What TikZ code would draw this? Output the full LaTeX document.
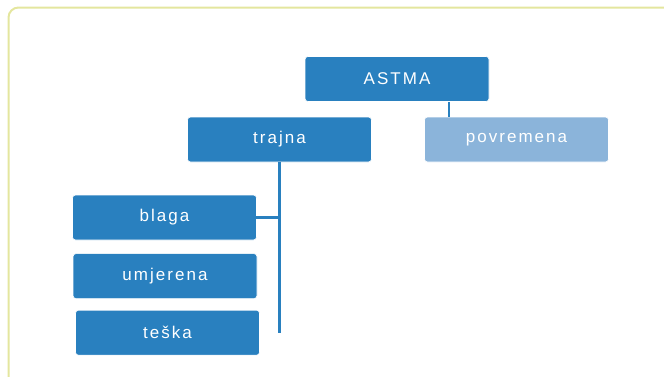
\documentclass[tikz,border=0pt]{standalone}
\usepackage{fontspec}
\usepackage{tikz}
\usetikzlibrary{positioning}
\newfontfamily\boxfont[LetterSpace=12]{Liberation Sans}
\definecolor{kutija}{RGB}{41,128,191}
\definecolor{svijetla}{RGB}{139,180,218}
\definecolor{okvir}{RGB}{228,230,158}

\tikzset{
  razina/.style={draw=white, line width=0.6pt, fill=kutija, text=white, rounded corners=3pt,
    minimum width=184pt, minimum height=45pt, font=\boxfont\fontsize{17}{19}\selectfont},
  povr/.style={razina, fill=svijetla},
  veza/.style={draw=kutija, line width=2.2pt}
}

\begin{document}
\begin{tikzpicture}[x=1pt, y=-1pt]
        \clip (0,0) rectangle (664,376);
        \useasboundingbox (0,0) rectangle (664,376);
        \draw[okvir, line width=2pt, rounded corners=10pt] (8.5,7.5) rectangle (720,420);

        \node[razina] (astma) at (397,79) {ASTMA};
        \node[razina] (trajna) at (279.5,139.5) {trajna};
        \node[povr] (povremena) at (516.5,139.5) {povremena};
        \node[razina] (blaga) at (164.5,217.5) {blaga};
        \node[razina, below=13pt of blaga, xshift=0.5pt] (umjerena) {umjerena};
        \node[razina, below=11pt of umjerena, xshift=2.5pt] (teska) {teška};

        \coordinate (kraj) at (279.5,333);

        \draw[veza] ([xshift=25pt]povremena.north west) -- ([xshift=25pt]povremena.north west |- astma.south);
        \draw[veza] (trajna.south) -- (kraj);
        \draw[veza] ([xshift=-16pt]blaga.east) -- (blaga.east -| kraj);
    \end{tikzpicture}
\end{document}
